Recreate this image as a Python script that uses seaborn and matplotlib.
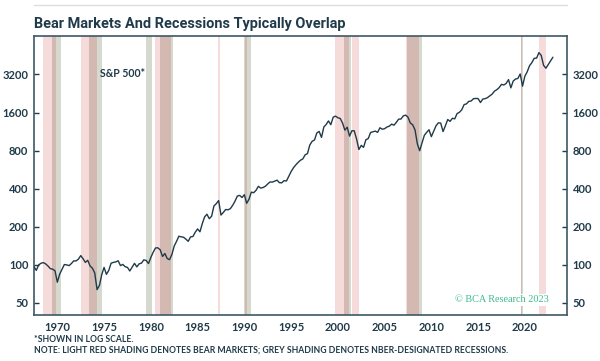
import pandas as pd
import numpy as np
import matplotlib.pyplot as plt
import matplotlib.dates as mdates
from matplotlib.lines import Line2D
import seaborn as sns

# S&P 500, quarter-end values from Dec 1967 onwards
sp500 = [
    96.5,
    90.2, 99.6, 102.7, 103.9,
    101.5, 97.7, 93.1, 92.1,
    89.6, 72.7, 84.2, 92.2,
    100.3, 99.7, 98.3, 102.1,
    107.2, 107.1, 110.6, 118.1,
    111.5, 104.3, 108.4, 97.6,
    94.0, 86.0, 63.5, 68.6,
    83.4, 95.2, 83.9, 90.2,
    102.8, 104.3, 105.2, 107.5,
    98.4, 100.5, 96.5, 95.1,
    89.2, 95.5, 102.5, 96.1,
    101.6, 102.9, 109.3, 107.9,
    102.1, 114.2, 125.5, 135.8,
    136.0, 131.2, 116.2, 122.6,
    112.0, 109.6, 120.4, 140.6,
    153.0, 168.1, 166.1, 164.9,
    159.2, 153.2, 166.1, 167.2,
    180.7, 191.9, 182.1, 211.3,
    238.9, 250.8, 231.3, 242.2,
    291.7, 304.0, 321.8, 247.1,
    258.9, 273.5, 271.9, 277.7,
    294.9, 318.0, 349.2, 353.4,
    339.9, 358.0, 306.1, 330.2,
    375.2, 371.2, 387.9, 417.1,
    403.7, 408.1, 417.8, 435.7,
    451.7, 450.5, 458.9, 466.5,
    445.8, 444.3, 462.7, 459.3,
    500.7, 544.8, 584.4, 615.9,
    645.5, 670.6, 687.3, 740.7,
    757.1, 885.1, 947.3, 970.4,
    1101.8, 1133.8, 1017.0, 1229.2,
    1286.4, 1372.7, 1282.7, 1469.3,
    1498.6, 1454.6, 1436.5, 1320.3,
    1160.3, 1224.4, 1040.9, 1148.1,
    1147.4, 989.8, 815.3, 879.8,
    848.2, 974.5, 996.0, 1111.9,
    1126.2, 1140.8, 1114.6, 1211.9,
    1180.6, 1191.3, 1228.8, 1248.3,
    1294.8, 1270.2, 1335.9, 1418.3,
    1420.9, 1503.4, 1526.8, 1468.4,
    1322.7, 1280.0, 1166.4, 903.3,
    797.9, 919.3, 1057.1, 1115.1,
    1169.4, 1030.7, 1141.2, 1257.6,
    1325.8, 1320.6, 1131.4, 1257.6,
    1408.5, 1362.2, 1440.7, 1426.2,
    1569.2, 1606.3, 1681.6, 1848.4,
    1872.3, 1960.2, 1972.3, 2058.9,
    2067.9, 2063.1, 1920.0, 2043.9,
    2059.7, 2098.9, 2168.3, 2238.8,
    2362.7, 2423.4, 2519.4, 2673.6,
    2640.9, 2718.4, 2914.0, 2506.9,
    2834.4, 2941.8, 2976.7, 3230.8,
    2584.6, 3100.3, 3363.0, 3756.1,
    3972.9, 4297.5, 4307.5, 4766.2,
    4530.4, 3785.4, 3585.6, 3839.5,
    4109.3, 4380.0,
]

bear_start = ["1968-11-29", "1973-01-11", "1980-11-28", "1987-08-25", "1990-07-16",
              "2000-03-24", "2002-01-04", "2007-10-09", "2020-02-19", "2022-01-03"]
bear_end = ["1970-05-26", "1974-10-03", "1982-08-12", "1987-12-04", "1990-10-11",
            "2001-09-21", "2002-10-09", "2009-03-09", "2020-03-23", "2022-10-12"]

rec_start = ["1969-12-01", "1973-11-01", "1980-01-01", "1981-07-01", "1990-07-01",
             "2001-03-01", "2007-12-01", "2020-02-01"]
rec_end = ["1970-11-30", "1975-03-31", "1980-07-31", "1982-11-30", "1991-03-31",
           "2001-11-30", "2009-06-30", "2020-04-30"]

y_ticks = [50, 100, 200, 400, 800, 1600, 3200]
x_labels = list(range(1970, 2021, 5))

dark = "#1f3a48"
pink = "#f6dbdb"
grey = "#d6d9ce"
overlap = "#d3b9b1"

df = pd.DataFrame({
    "date": pd.date_range("1967-12-31", periods=len(sp500), freq="QE"),
    "sp500": sp500,
})

sns.set_style("white")
plt.rcParams["font.family"] = ["Lato", "DejaVu Sans"]

fig = plt.figure(figsize=(6, 3.61), dpi=100)
ax = fig.add_axes([34 / 600, 46 / 361, 533 / 600, 279 / 361])

bears = [(pd.Timestamp(s), pd.Timestamp(e)) for s, e in zip(bear_start, bear_end)]
recs = [(pd.Timestamp(s), pd.Timestamp(e)) for s, e in zip(rec_start, rec_end)]

for s, e in bears:
    ax.axvspan(s, e, color=pink, lw=0, zorder=0)
for s, e in recs:
    ax.axvspan(s, e, color=grey, lw=0, zorder=0)
# where both overlap
for bs, be in bears:
    for rs, re_ in recs:
        s, e = max(bs, rs), min(be, re_)
        if s < e:
            ax.axvspan(s, e, color=overlap, lw=0, zorder=0.5)

sns.lineplot(data=df, x="date", y="sp500", ax=ax, color=dark, lw=1.0, zorder=3)

ax.set_yscale("log")
ax.set_ylim(40, 6450)
ax.set_xlim(pd.Timestamp("1968-01-01"), pd.Timestamp("2025-01-01"))
ax.set_yticks(y_ticks)
ax.set_yticklabels([str(v) for v in y_ticks])
ax.yaxis.set_minor_locator(plt.NullLocator())

# year ticks at Jan 1, labels centred mid-year
ax.xaxis.set_minor_locator(mdates.YearLocator(1))
ax.set_xticks([pd.Timestamp(f"{y}-07-01") for y in x_labels])
ax.set_xticklabels([str(y) for y in x_labels])
ax.set_xlabel("")
ax.set_ylabel("")

ax.tick_params(axis="x", which="major", length=0, pad=5, labelsize=8, colors=dark)
ax.tick_params(axis="x", which="minor", direction="in", length=5, width=1, color=dark)
ax.tick_params(axis="y", which="major", direction="in", length=3.5, width=1, color=dark,
               labelsize=8, labelcolor=dark, left=True, right=True,
               labelleft=True, labelright=True, pad=4)
for lab in ax.get_xticklabels() + ax.get_yticklabels():
    lab.set_fontweight("bold")

for sp in ax.spines.values():
    sp.set_color("#3d5866")
    sp.set_linewidth(1.2)

ax.text(0.124, 0.865, "S&P 500*", transform=ax.transAxes, fontsize=7.6,
        fontweight="bold", color=dark, ha="left", va="center")
ax.text(0.965, 0.055, "© BCA Research 2023", transform=ax.transAxes, fontsize=7.4,
        family=["Liberation Serif", "DejaVu Serif"], color="#3dbb8e", ha="right",
        va="center", bbox=dict(facecolor="white", edgecolor="none", pad=1))

fig.text(34 / 600, 1 - 24 / 361, "Bear Markets And Recessions Typically Overlap",
         family=["Liberation Sans Narrow", "Roboto"], fontsize=10.45, fontweight="bold",
         color=dark, ha="left", va="center")
fig.add_artist(Line2D([34 / 600, 567 / 600], [1 - 5 / 361] * 2, color="#dddddd", lw=1))

fig.text(34 / 600, 1 - 339 / 361, "*SHOWN IN LOG SCALE.", fontsize=6.25,
         fontweight="bold", color=dark, ha="left", va="center")
fig.text(34 / 600, 1 - 350 / 361,
         "NOTE: LIGHT RED SHADING DENOTES BEAR MARKETS; GREY SHADING DENOTES NBER-DESIGNATED RECESSIONS.",
         fontsize=6.25, fontweight="bold", color=dark, ha="left", va="center")

fig.savefig("out.png", dpi=100)
